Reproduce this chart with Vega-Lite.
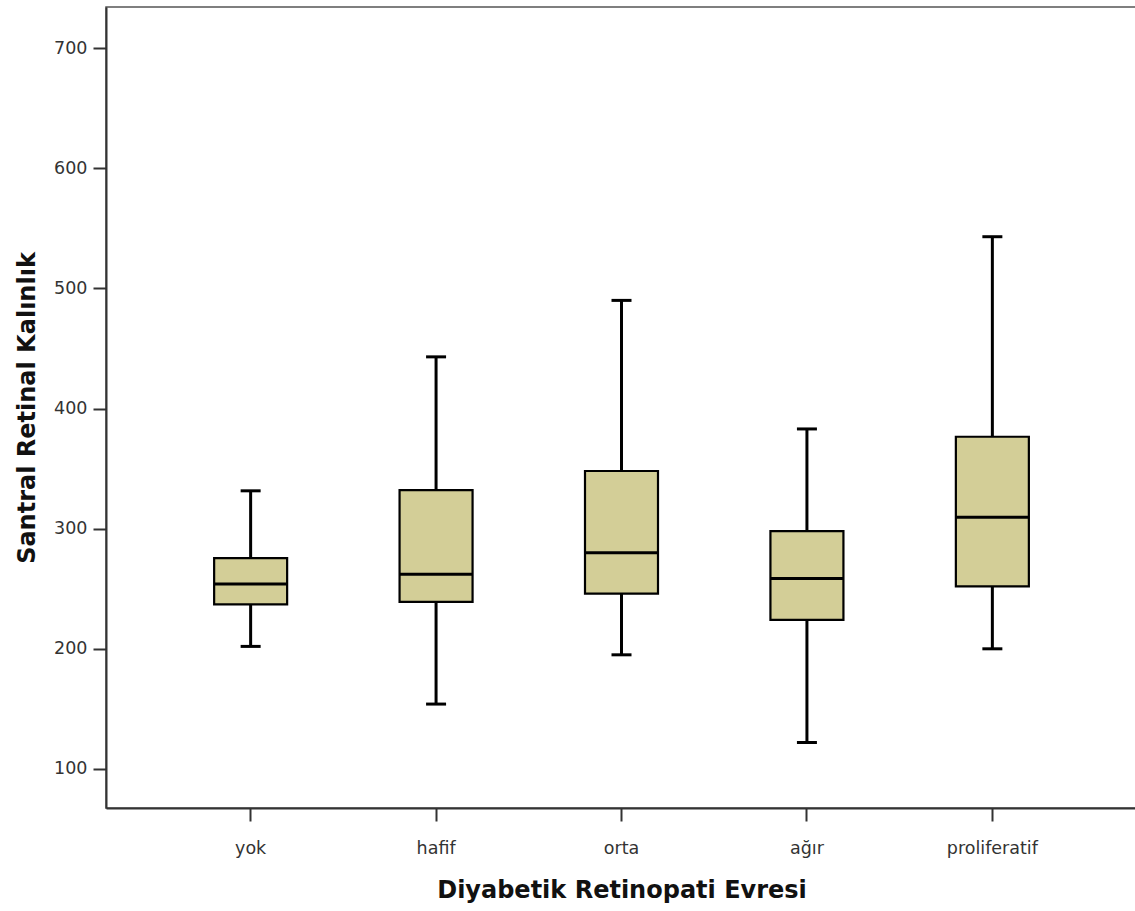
{
  "$schema": "https://vega.github.io/schema/vega-lite/v6.json",
  "autosize": "none",
  "padding": {"left": 106, "top": 7, "right": 0, "bottom": 103},
  "width": 1031,
  "height": 801,
  "background": "white",
  "config": {
    "view": {"stroke": "#555555", "strokeWidth": 1.5},
    "axis": {
      "labelFont": "DejaVu Sans",
      "labelFontSize": 17.5,
      "labelColor": "#333333",
      "titleFont": "DejaVu Sans",
      "titleFontWeight": "bold",
      "titleFontSize": 24,
      "titleColor": "#111111",
      "domainColor": "#333333",
      "domainWidth": 2,
      "tickColor": "#333333",
      "tickWidth": 2,
      "tickSize": 13,
      "grid": false
    }
  },
  "data": {
    "values": [
      {"evre": "yok", "lower": 202, "q1": 237, "median": 254, "q3": 275.5, "upper": 331.5},
      {"evre": "hafif", "lower": 154, "q1": 239, "median": 262, "q3": 332, "upper": 443},
      {"evre": "orta", "lower": 195, "q1": 246, "median": 280, "q3": 348, "upper": 490},
      {"evre": "ağır", "lower": 122, "q1": 224, "median": 258.5, "q3": 298, "upper": 383},
      {"evre": "proliferatif", "lower": 200, "q1": 252, "median": 309.5, "q3": 376.5, "upper": 543}
    ]
  },
  "encoding": {
    "x": {
      "field": "evre",
      "type": "nominal",
      "sort": ["yok", "hafif", "orta", "ağır", "proliferatif"],
      "scale": {"paddingInner": 0, "paddingOuter": 0.28},
      "axis": {
        "title": "Diyabetik Retinopati Evresi",
        "labelAngle": 0,
        "labelPadding": 18,
        "titlePadding": 22
      }
    }
  },
  "layer": [
    {
      "mark": {"type": "rule", "color": "black", "strokeWidth": 3},
      "encoding": {
        "y": {
          "field": "lower",
          "type": "quantitative",
          "scale": {"domain": [67.5, 734.2], "nice": false, "zero": false},
          "axis": {
            "title": "Santral Retinal Kalınlık",
            "values": [100, 200, 300, 400, 500, 600, 700],
            "labelPadding": 6,
            "titlePadding": 14
          }
        },
        "y2": {"field": "upper"}
      }
    },
    {
      "mark": {"type": "bar", "fill": "#d3ce97", "stroke": "black", "strokeWidth": 2.2, "size": 73, "opacity": 1},
      "encoding": {
        "y": {"field": "q1", "type": "quantitative"},
        "y2": {"field": "q3"}
      }
    },
    {
      "mark": {"type": "tick", "color": "black", "size": 73, "thickness": 3, "opacity": 1},
      "encoding": {"y": {"field": "median", "type": "quantitative"}}
    },
    {
      "mark": {"type": "tick", "color": "black", "size": 20, "thickness": 3, "opacity": 1},
      "encoding": {"y": {"field": "lower", "type": "quantitative"}}
    },
    {
      "mark": {"type": "tick", "color": "black", "size": 20, "thickness": 3, "opacity": 1},
      "encoding": {"y": {"field": "upper", "type": "quantitative"}}
    }
  ]
}
